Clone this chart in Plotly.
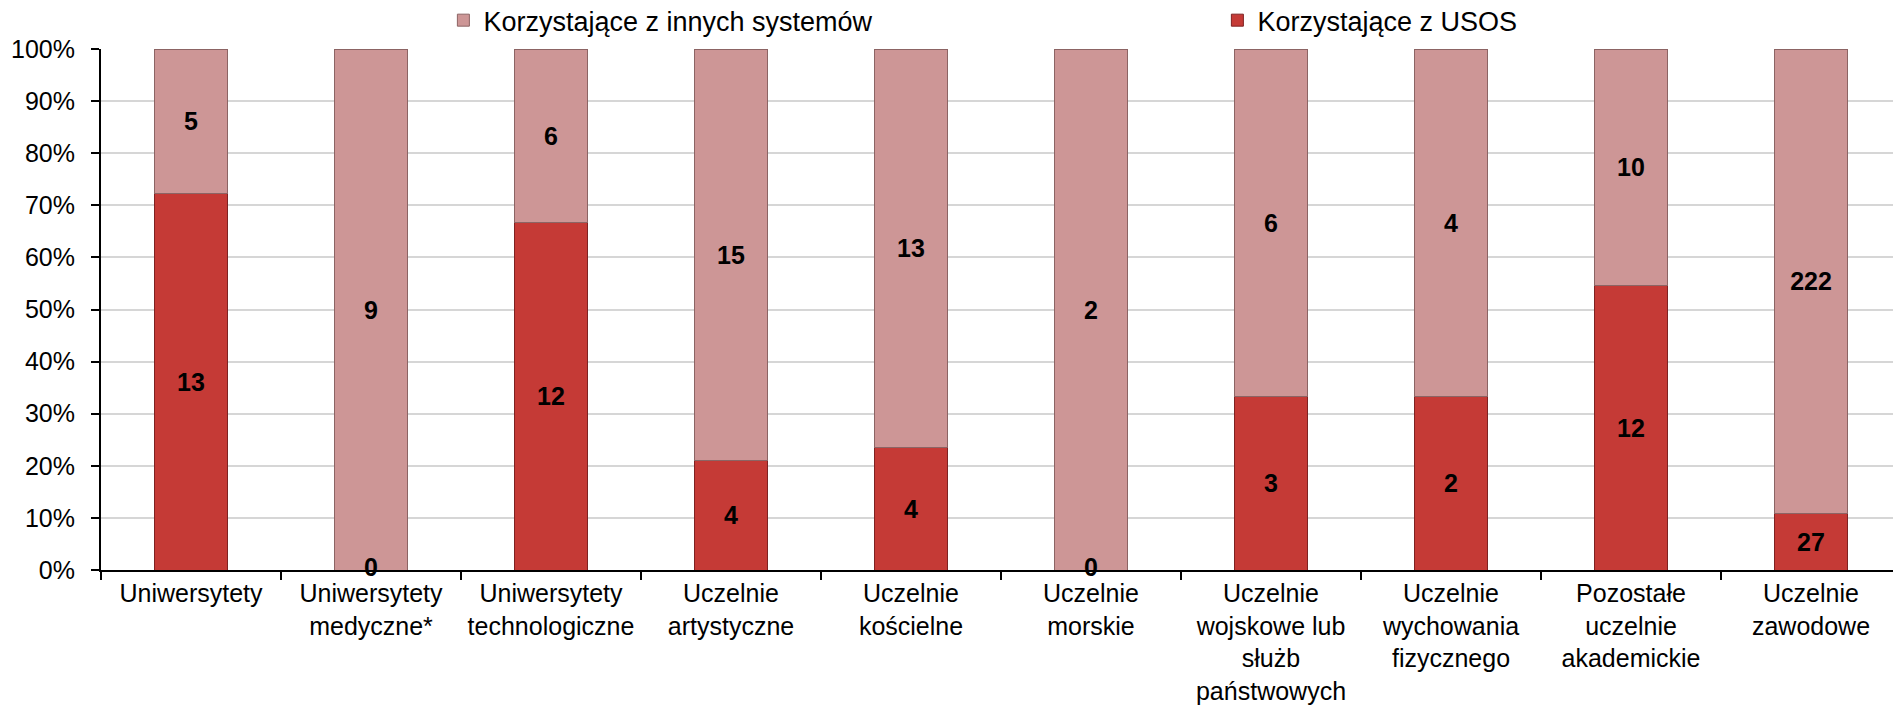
import plotly.graph_objects as go

# Liczba uczelni wg typu i systemu obsługi studiów
categories = [
    "Uniwersytety",
    "Uniwersytety<br>medyczne*",
    "Uniwersytety<br>technologiczne",
    "Uczelnie<br>artystyczne",
    "Uczelnie<br>kościelne",
    "Uczelnie<br>morskie",
    "Uczelnie<br>wojskowe lub<br>służb<br>państwowych",
    "Uczelnie<br>wychowania<br>fizycznego",
    "Pozostałe<br>uczelnie<br>akademickie",
    "Uczelnie<br>zawodowe",
]
usos = [13, 0, 12, 4, 4, 0, 3, 2, 12, 27]
other = [5, 9, 6, 15, 13, 2, 6, 4, 10, 222]

y_ticks = [0, 10, 20, 30, 40, 50, 60, 70, 80, 90, 100]
y_labels = [f"{v}%" for v in y_ticks]

FONT = "Liberation Sans, Arial, sans-serif"
RED = "#C53A36"
PINK = "#CD9696"
label_font = dict(family=FONT, size=25, color="black", weight="bold")

fig = go.Figure()

# legend order in the original: "innych" first, then USOS
fig.add_trace(go.Bar(
    x=categories, y=usos, name="Korzystające z USOS",
    marker=dict(color=RED, line=dict(color="#7E2222", width=1)),
    text=[str(v) if v else "" for v in usos],
    textposition="inside", insidetextanchor="middle",
    textfont=label_font, constraintext="none", legendrank=2,
))
fig.add_trace(go.Bar(
    x=categories, y=other, name="Korzystające z innych systemów",
    marker=dict(color=PINK, line=dict(color="#8C6464", width=1)),
    text=[str(v) for v in other],
    textposition="inside", insidetextanchor="middle",
    textfont=label_font, constraintext="none", legendrank=1,
))

# zero-height segments still get a "0" label on the baseline
zero_x = [c for c, v in zip(categories, usos) if v == 0]
fig.add_trace(go.Scatter(
    x=zero_x, y=[0] * len(zero_x), mode="text",
    text=["0"] * len(zero_x), textposition="middle center",
    textfont=label_font, showlegend=False, hoverinfo="skip", cliponaxis=False,
))

# page body adds an 8px offset, so the figure is a bit smaller than the window
fig.update_layout(
    barmode="stack", barnorm="percent", bargap=0.59,
    width=1893, height=701,
    margin=dict(l=93, r=0, t=41, b=139, autoexpand=False),
    paper_bgcolor="white", plot_bgcolor="white",
    font=dict(family=FONT, size=26, color="black"),
    legend=dict(
        orientation="h", xref="container", yref="container",
        x=0.23, y=0.982, xanchor="left", yanchor="middle",
        entrywidth=729, traceorder="normal",
        font=dict(family=FONT, size=27, color="black"),
        itemwidth=30, bgcolor="rgba(0,0,0,0)",
    ),
    showlegend=True,
)
fig.update_xaxes(
    showline=True, linecolor="black", linewidth=2,
    ticks="outside", tickson="boundaries", ticklen=8, tickcolor="black", tickwidth=2,
    showgrid=False, tickangle=0, tickfont=dict(family=FONT, size=25),
)
fig.update_yaxes(
    range=[0, 100], tickmode="array", tickvals=y_ticks, ticktext=y_labels,
    showline=True, linecolor="black", linewidth=2,
    ticks="outside", ticklen=8, tickcolor="black", tickwidth=2,
    ticklabelstandoff=11,
    showgrid=True, gridcolor="#D6D6D6", gridwidth=2,
    tickfont=dict(family=FONT, size=25), zeroline=False,
)

fig.write_html("out.html")
